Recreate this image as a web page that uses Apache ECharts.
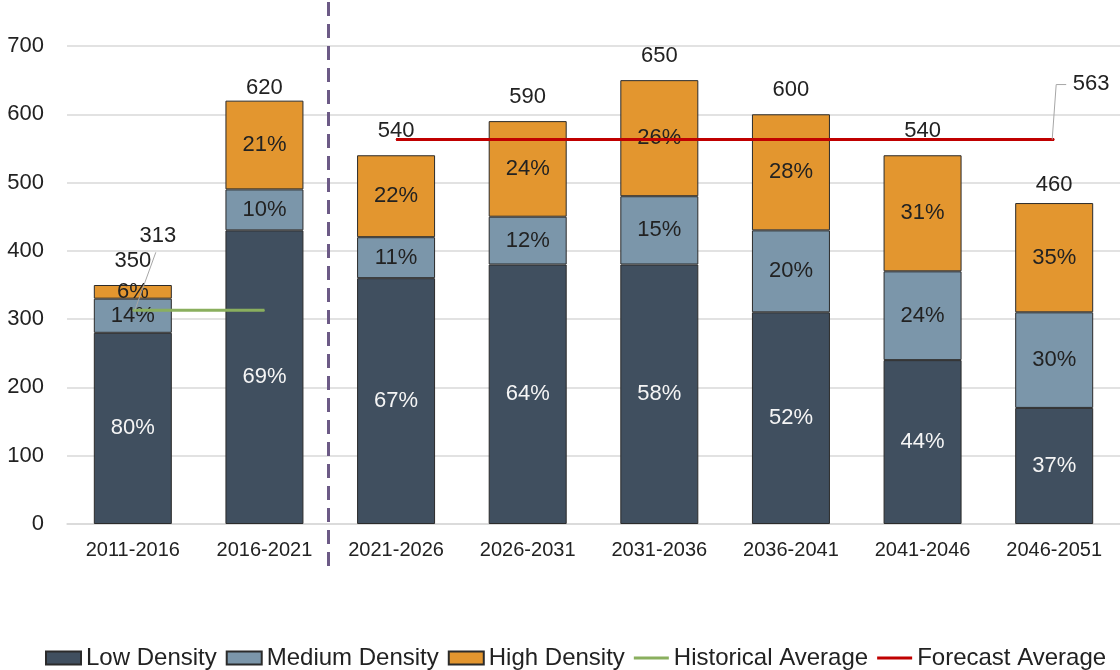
<!DOCTYPE html>
<html><head><meta charset="utf-8">
<script src="https://cdn.jsdelivr.net/npm/echarts@6/dist/echarts.min.js"></script>
<style>html,body{margin:0;padding:0;background:#fff}#c{width:1120px;height:670px}</style>
</head><body><div id="c"></div>
<script>
const categories = ['2011-2016','2016-2021','2021-2026','2026-2031','2031-2036','2036-2041','2041-2046','2046-2051'];
const lowDensity = [280, 430, 360, 380, 380, 310, 240, 170];
const mediumDensity = [50, 60, 60, 70, 100, 120, 130, 140];
const highDensity = [20, 130, 120, 140, 170, 170, 170, 160];
const lowPct = ['80%','69%','67%','64%','58%','52%','44%','37%'];
const mediumPct = ['14%','10%','11%','12%','15%','20%','24%','30%'];
const highPct = ['6%','21%','22%','24%','26%','28%','31%','35%'];
const totalLabels = [350, 620, 540, 590, 650, 600, 540, 460];
const historicalAverage = [313, 313, null, null, null, null, null, null];
const forecastAverage = [null, null, 563, 563, 563, 563, 563, 563];

const FONT = "'Liberation Sans', Arial, sans-serif";
const TXT = '#222222';
const chart = echarts.init(document.getElementById('c'), null, {renderer: 'canvas'});

function barSeries(name, data, pct, color, labelColor) {
  return {
    name, type: 'bar', stack: 'total', data, barWidth: 78,
    itemStyle: {color, borderColor: '#2b2b2b', borderWidth: 1},
    label: {show: true, position: 'inside', fontFamily: FONT, fontSize: 22, color: labelColor,
      formatter: p => pct[p.dataIndex]},
    emphasis: {disabled: true}, z: 2
  };
}

const option = {
  animation: false,
  textStyle: {fontFamily: FONT},
  grid: {left: 67, right: 0, top: 46, bottom: 146, containLabel: false},
  legend: {
    left: 40, top: 641, itemGap: 9, itemWidth: 35, itemHeight: 13,
    textStyle: {fontFamily: FONT, fontSize: 24, color: TXT},
    data: [
      {name: 'Low Density', icon: 'rect'}, {name: 'Medium Density', icon: 'rect'}, {name: 'High Density', icon: 'rect'},
      {name: 'Historical Average', icon: 'path://M0,0H35V3H0Z'},
      {name: 'Forecast Average', icon: 'path://M0,0H35V3H0Z'}
    ],
    selectedMode: false
  },
  xAxis: {
    type: 'category', data: categories,
    axisLine: {lineStyle: {color: '#d9d9d9', width: 1.5}},
    axisTick: {show: false},
    axisLabel: {fontFamily: FONT, fontSize: 20, color: TXT, margin: 16}
  },
  yAxis: {
    type: 'value', min: 0, max: 700, interval: 100,
    axisLine: {show: false}, axisTick: {show: false},
    axisLabel: {fontFamily: FONT, fontSize: 22, color: TXT, margin: 23},
    splitLine: {lineStyle: {color: '#d9d9d9', width: 1.5}}
  },
  series: [
    barSeries('Low Density', lowDensity, lowPct, '#404f5f', '#f5f5f5'),
    barSeries('Medium Density', mediumDensity, mediumPct, '#7b96aa', TXT),
    barSeries('High Density', highDensity, highPct, '#e3962f', TXT),
    {
      name: 'Total', type: 'scatter', data: totalLabels.map((v, i) => i === 1 ? {value: v, label: {distance: 1}} : v),
      symbolSize: 1, itemStyle: {color: 'rgba(0,0,0,0)', opacity: 1}, silent: true, z: 5,
      label: {show: true, position: 'top', distance: 13, fontFamily: FONT, fontSize: 22, color: TXT, opacity: 1,
        formatter: p => String(p.value)}
    },
    {
      name: 'Historical Average', type: 'line', data: historicalAverage.map((v, i) => i === 0 ? {value: v, label: {show: true}} : v),
      symbol: 'circle', symbolSize: 1, showSymbol: true, connectNulls: false,
      lineStyle: {color: '#8aaf5e', width: 3}, itemStyle: {color: '#8aaf5e'}, z: 6,
      label: {show: false, position: 'top', distance: 5, offset: [25, -58], fontFamily: FONT, fontSize: 22, color: TXT,
        formatter: p => String(p.value)}
    },
    {
      name: 'Forecast Average', type: 'line', data: forecastAverage.map((v, i) => i === 7 ? {value: v, label: {show: true}} : v),
      symbol: 'circle', symbolSize: 1, showSymbol: true, connectNulls: false,
      lineStyle: {color: '#c00000', width: 3}, itemStyle: {color: '#c00000'}, z: 6,
      label: {show: false, position: 'top', distance: 5, offset: [37, -39], fontFamily: FONT, fontSize: 22, color: TXT,
        formatter: p => String(p.value)}
    }
  ]
};
chart.setOption(option);

// separator between historical and forecast periods, and label leader lines
const xa = chart.convertToPixel({xAxisIndex: 0}, 1);
const xb = chart.convertToPixel({xAxisIndex: 0}, 2);
const sepX = Math.round((xa + xb) / 2) - 1.5;
const hp = chart.convertToPixel({gridIndex: 0}, [0, historicalAverage[0]]);
const fp = chart.convertToPixel({gridIndex: 0}, [7, forecastAverage[7]]);
chart.setOption({
  graphic: [
    {type: 'line', silent: true, z: 10,
      shape: {x1: sepX, y1: 2, x2: sepX, y2: 566},
      style: {stroke: '#6c5a86', lineWidth: 3, lineDash: [14, 8]}},
    {type: 'polyline', silent: true, z: 10,
      shape: {points: [[hp[0] + 2, hp[1]], [hp[0] + 23, hp[1] - 58]]},
      style: {stroke: '#a6a6a6', lineWidth: 1, fill: null}},
    {type: 'polyline', silent: true, z: 10,
      shape: {points: [[fp[0] - 2, fp[1]], [fp[0] + 2, fp[1] - 55], [fp[0] + 12, fp[1] - 55]]},
      style: {stroke: '#a6a6a6', lineWidth: 1, fill: null}}
  ]
});
</script></body></html>
